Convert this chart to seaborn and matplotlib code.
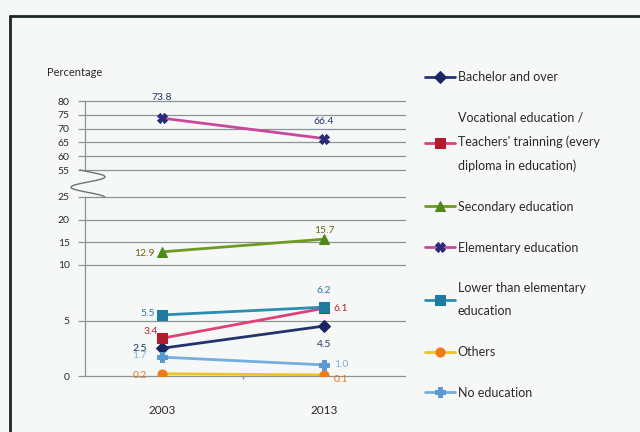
import numpy as np
import pandas as pd
import seaborn as sns
import matplotlib.pyplot as plt
from matplotlib.lines import Line2D

# 데이터
years = ["2003", "2013"]
series_names = [
    "Bachelor and over",
    "Vocational education /\nTeachers' trainning (every\ndiploma in education)",
    "Secondary education",
    "Elementary education",
    "Lower than elementary\neducation",
    "Others",
    "No education",
]
bachelor = [2.5, 4.5]
vocational = [3.4, 6.1]
secondary = [12.9, 15.7]
elementary = [73.8, 66.4]
lower_elem = [5.5, 6.2]
others = [0.2, 0.1]
no_edu = [1.7, 1.0]
values = [bachelor, vocational, secondary, elementary, lower_elem, others, no_edu]

# 스타일 (선 색, 마커, 마커 색, 라벨 색)
line_colors = ["#23336e", "#e0407a", "#6f9a22", "#c8489a", "#2b8db0", "#f2c21e", "#74aede"]
marker_styles = ["D", "s", "^", "X", "s", "o", "P"]
marker_colors = ["#1b2560", "#b01c2c", "#4e8a1a", "#2a2a78", "#1f7aa0", "#f07a18", "#5a9ad0"]
label_colors = ["#22356a", "#c0202e", "#6b6a10", "#22306a", "#2a7aa0", "#e07820", "#7ab0d8"]
# 라벨 위치 (offset points, ha) - 2003 / 2013
label_pos = [
    [((-11, 0), "right"), ((0, -13), "center")],
    [((-3, 5), "right"), ((7, 0), "left")],
    [((-5, -1), "right"), ((0, 6), "center")],
    [((0, 15), "center"), ((0, 12), "center")],
    [((-5, 1), "right"), ((0, 12), "center")],
    [((-11, -1), "right"), ((7, -3), "left")],
    [((-11, 1), "right"), ((7, 0), "left")],
]

df = pd.DataFrame({
    "series": np.repeat(series_names, 2),
    "pos": [0, 1] * len(series_names),
    "value": np.concatenate(values),
})

sns.set_theme(style="white")
plt.rcParams["font.family"] = ["Lato", "DejaVu Sans"]

fig = plt.figure(figsize=(6.4, 4.32), dpi=100, facecolor="#f6f8f8")
W, H = 640, 432
left, right = 85, 405


def px_axes(top, bottom):
    return fig.add_axes([left / W, 1 - bottom / H, (right - left) / W, (bottom - top) / H])


ax_top = px_axes(101, 170)
ax_mid = px_axes(197, 265)
ax_bot = px_axes(265, 376)
panels = [(ax_top, (55, 80), [55, 60, 65, 70, 75, 80]),
          (ax_mid, (10, 25), [10, 15, 20, 25]),
          (ax_bot, (0, 10), [0, 5])]

grid_c = "#8a9494"
for ax, ylim, ticks in panels:
    ax.set_facecolor("none")
    for i, name in enumerate(series_names):
        sub = df[df["series"] == name]
        sns.lineplot(data=sub, x="pos", y="value", ax=ax, color=line_colors[i], lw=2,
                     marker=marker_styles[i], markersize=6.5, markerfacecolor=marker_colors[i],
                     markeredgecolor=marker_colors[i], label=name, legend=False, zorder=3)
        for j, v in enumerate(values[i]):
            if ylim[0] <= v <= ylim[1]:
                (dx, dy), ha = label_pos[i][j]
                ax.annotate(f"{v:.1f}", (j, v), xytext=(dx, dy), textcoords="offset points",
                            ha=ha, va="center", fontsize=7.5, color=label_colors[i])
    ax.set_xlim(-0.475, 1.5)
    ax.set_ylim(*ylim)
    ax.set_yticks(ticks)
    for t in ticks:
        ax.axhline(t, color=grid_c, lw=0.9, zorder=1, clip_on=False)
    for s in ["top", "right", "bottom"]:
        ax.spines[s].set_visible(False)
    ax.spines["left"].set_color(grid_c)
    ax.spines["left"].set_linewidth(0.9)
    ax.tick_params(axis="y", length=5, width=0.9, color=grid_c, labelsize=7.5,
                   labelcolor="#2a2a2a", pad=6, left=True)
    ax.set_xlabel("")
    ax.set_ylabel("")
    if ax is not ax_bot:
        ax.set_xticks([])

ax_bot.set_xticks([0, 1])
ax_bot.set_xticklabels(years)
ax_bot.set_xticks([0.5], minor=True)
ax_bot.tick_params(axis="x", which="major", length=0, labelsize=8.5, pad=21, labelcolor="#2a2a2a")
ax_bot.tick_params(axis="x", which="minor", length=4, width=0.9, color=grid_c,
                   direction="inout", bottom=True)

# 축 끊김 표시 (물결)
t = np.linspace(0, 1, 80)
wx = 88 + 17 * np.sin(2 * np.pi * 1.3 * t - 0.5)
wy = 170 + 27 * t
fig.add_artist(Line2D(wx / W, 1 - wy / H, color="#6a7474", lw=1.0))

fig.text(47 / W, 1 - 72 / H, "Percentage", fontsize=8, va="center", color="#2a2a2a")

# 범례
handles = ax_bot.get_lines()[:len(series_names)]
leg = fig.legend(handles, series_names, loc="upper left", bbox_to_anchor=(420 / W, 1 - 66 / H),
                 frameon=False, fontsize=9, labelspacing=2.3, handlelength=2.4,
                 handletextpad=0.2, borderaxespad=0)
for txt in leg.get_texts():
    txt.set_linespacing(2.1)
    txt.set_color("#2a2a2a")

# 테두리
fig.add_artist(Line2D([10 / W, 1], [1 - 16 / H] * 2, color="#1c2626", lw=2))
fig.add_artist(Line2D([10 / W] * 2, [0, 1 - 16 / H], color="#1c2626", lw=2))

fig.savefig("out.png", dpi=100, facecolor=fig.get_facecolor())
